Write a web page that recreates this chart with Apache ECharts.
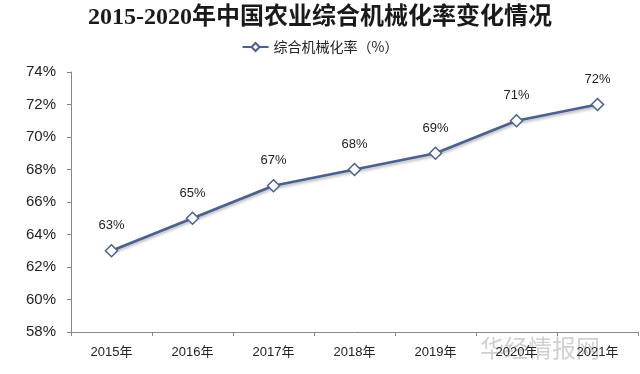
<!DOCTYPE html>
<html><head><meta charset="utf-8">
<script src="https://cdn.jsdelivr.net/npm/echarts@6/dist/echarts.min.js"></script>
<style>html,body{margin:0;padding:0;background:#fff}#c{width:640px;height:374px}</style>
</head><body><div id="c"></div>
<script>
const categories = ['2015年','2016年','2017年','2018年','2019年','2020年','2021年'];
const rateValues = [63, 65, 67, 68, 69, 71, 72];
const seriesName = '综合机械化率（%）';
const titleText = '2015-2020年中国农业综合机械化率变化情况';

const chart = echarts.init(document.getElementById('c'));
chart.setOption({
  backgroundColor: '#fff',
  animation: false,
  title: {
    text: titleText, left: 'center', top: 1,
    textStyle: {fontFamily: '"Liberation Serif","Noto Sans CJK SC",serif', fontSize: 24, fontWeight: 'bold', color: '#1a1a1a'}
  },
  legend: {
    top: 35, left: 'center', itemWidth: 26, itemHeight: 10, itemGap: 6,
    textStyle: {fontFamily: '"Noto Sans CJK SC",sans-serif', fontSize: 14, color: '#222'},
    data: [seriesName]
  },
  grid: {left: 71, right: 2, top: 72, bottom: 42},
  xAxis: {
    type: 'category', data: categories, boundaryGap: true,
    axisLine: {lineStyle: {color: '#888', width: 1}},
    axisTick: {show: true, alignWithLabel: false, length: 4, lineStyle: {color: '#888'}},
    axisLabel: {fontFamily: '"Liberation Sans","Noto Sans CJK SC",sans-serif', fontSize: 13, color: '#222', margin: 14}
  },
  yAxis: {
    type: 'value', min: 58, max: 74, interval: 2,
    axisLine: {show: true, lineStyle: {color: '#888', width: 1}},
    axisTick: {show: true, length: 4, lineStyle: {color: '#888'}},
    splitLine: {show: false},
    axisLabel: {formatter: '{value}%', fontFamily: '"Liberation Sans",sans-serif', fontSize: 15, color: '#222', margin: 15}
  },
  series: [{
    name: seriesName, type: 'line', data: rateValues,
    symbol: 'diamond', symbolSize: 12,
    lineStyle: {color: '#4a6090', width: 2.5, shadowColor: 'rgba(0,0,0,0.3)', shadowBlur: 3, shadowOffsetY: 2},
    itemStyle: {color: '#fff', borderColor: '#4a6090', borderWidth: 1.5},
    label: {show: true, position: 'top', distance: 12, formatter: '{c}%', fontFamily: '"Liberation Sans",sans-serif', fontSize: 13, color: '#222'}
  }],
  graphic: [{
    type: 'text', left: 480, top: 336,
    style: {text: '华经情报网', fontFamily: '"Noto Sans CJK SC",sans-serif', fontSize: 24, fill: 'rgba(120,120,120,0.35)'}
  }]
});
</script></body></html>
